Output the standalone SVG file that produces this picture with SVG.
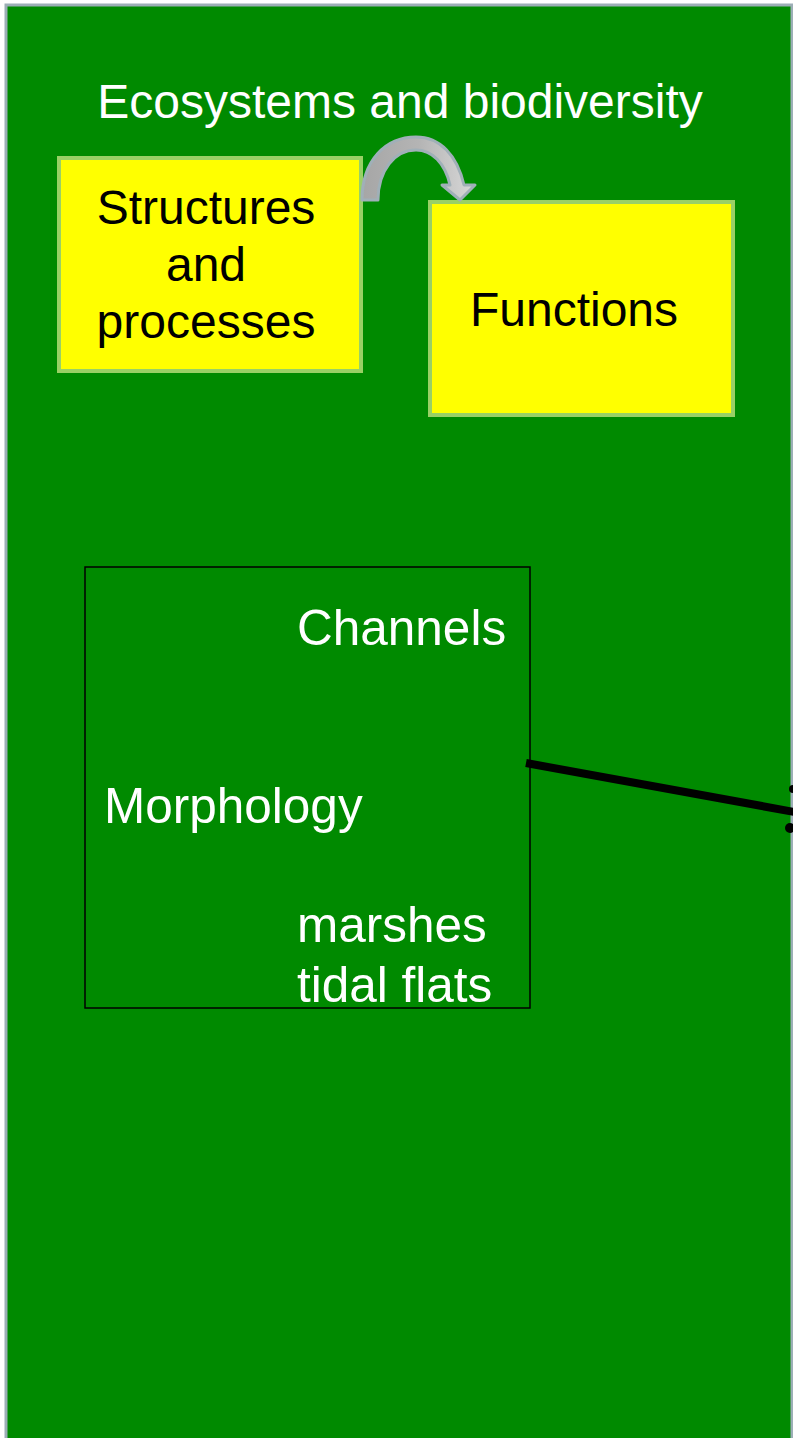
<svg xmlns="http://www.w3.org/2000/svg" width="793" height="1438" viewBox="0 0 793 1438">
<defs>
<style>
.t{font-family:"Liberation Sans",Arial,sans-serif;font-size:48px}
.m{font-size:49.5px}
.w{fill:#ffffff}
.b{fill:#000000}
.box{fill:#ffff00;stroke:#99d066;stroke-width:4}
</style>
<linearGradient id="ag" x1="0" y1="0" x2="1" y2="0">
<stop offset="0" stop-color="#a6a6a6"/>
<stop offset="0.5" stop-color="#b4b4b4"/>
<stop offset="1" stop-color="#d8d8d8"/>
</linearGradient>
</defs>
<rect width="793" height="1438" fill="#ffffff"/>
<g id="panel">
<rect x="6" y="5" width="786" height="1445" fill="#008a00" stroke="#9caeb6" stroke-width="3"/>
<text class="t w" x="400" y="118" text-anchor="middle">Ecosystems and biodiversity</text>
</g>
<g id="node-structures">
<rect class="box" x="59" y="158" width="302" height="213"/>
<text class="t b" x="206" y="224" text-anchor="middle">Structures</text>
<text class="t b" x="206" y="281" text-anchor="middle">and</text>
<text class="t b" x="206" y="338" text-anchor="middle">processes</text>
</g>
<g id="node-functions">
<rect class="box" x="430" y="202" width="303" height="213"/>
<text class="t b" x="574" y="326" text-anchor="middle">Functions</text>
</g>
<g id="node-morphology">
<rect x="85" y="567" width="445" height="441" fill="none" stroke="#000000" stroke-width="1.5"/>
<text class="t m w" x="297" y="645">Channels</text>
<text class="t m w" x="104" y="823">Morphology</text>
<text class="t m w" x="297" y="942">marshes</text>
<text class="t m w" x="297" y="1002">tidal flats</text>
</g>
<g id="connectors">
<path d="M362,200 C362,160 386,137 416,137 C440,137 457,155 464,185 L475,185 L460,200 L442,185 L450,185 C445,163 432,150 416,150 C395,150 378,170 378,200 Z" fill="url(#ag)" stroke="#a0b0b8" stroke-width="3" stroke-linejoin="round"/>
<line x1="526" y1="763" x2="800" y2="813" stroke="#000000" stroke-width="8"/>
<circle cx="793" cy="789" r="4" fill="#000000"/>
<circle cx="790" cy="828" r="5" fill="#000000"/>
</g>
</svg>
